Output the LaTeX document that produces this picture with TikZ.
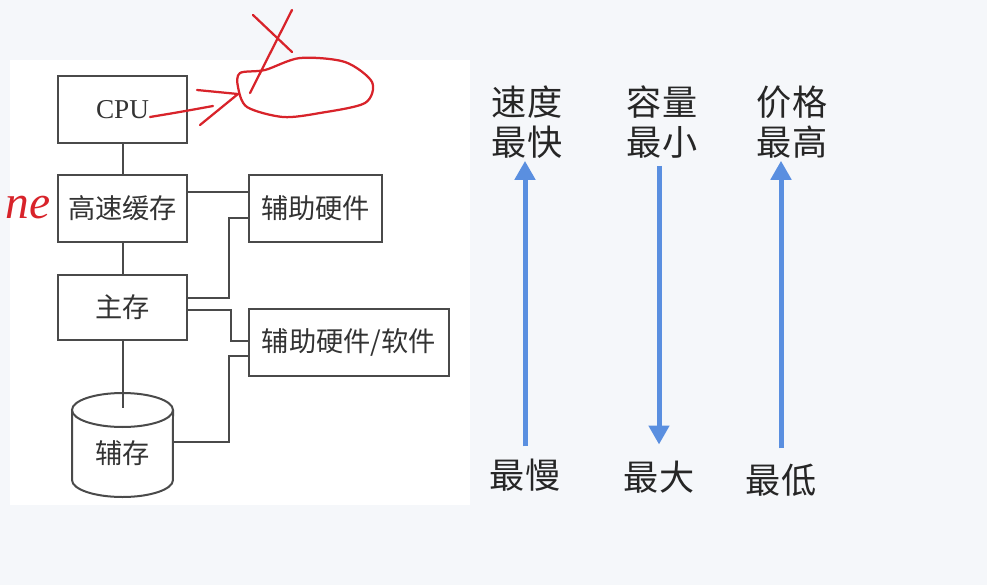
\documentclass[tikz,border=0pt]{standalone}
\usepackage{fontspec}
\usepackage{xcolor}
\usepackage{tikz}
\usetikzlibrary{arrows.meta}
\setmainfont{Liberation Serif}
\newfontfamily\cjk{Noto Sans CJK SC}
\definecolor{linegray}{HTML}{4A4A4A}
\definecolor{textgray}{HTML}{333333}
\definecolor{blueacc}{HTML}{5A8FE0}
\definecolor{redpen}{HTML}{D8232A}
\definecolor{bgmuted}{HTML}{F5F7FA}
\tikzset{
  box/.style={draw=linegray,line width=0.04cm,fill=white,minimum height=1.34cm,
    inner sep=0pt,font=\fontsize{15.5}{18}\selectfont\cjk,text=textgray},
  wire/.style={linegray,line width=0.04cm},
  flow/.style={blueacc,line width=0.1cm,-{Triangle[width=0.4cm,length=0.38cm]}},
  tag/.style={inner sep=0pt,align=center,font=\fontsize{20}{23}\selectfont\cjk,text=black!85},
  pen/.style={redpen,line width=0.045cm,line cap=round,line join=round}
}

\begin{document}
\begin{tikzpicture}[x=0.02cm,y=-0.02cm]
  \fill[bgmuted] (0,0) rectangle (987,585);
  \fill[white] (10,60) rectangle (470,505);
  \useasboundingbox (0,0) rectangle (987,585);

  \draw[wire,fill=white] (72,410) -- (72,480)
    arc[start angle=180,end angle=360,x radius=1.01cm,y radius=0.34cm] -- (173,410);
  \draw[wire,fill=white] (122.5,410) ellipse[x radius=1.01cm,y radius=0.34cm];

  \node[box,minimum width=2.58cm,font=\fontsize{15.5}{18}\selectfont\rmfamily] (cpu) at (122.5,109.5) {CPU};
  \node[box,minimum width=2.58cm] (cache) at (122.5,208.5) {高速缓存};
  \node[box,minimum width=2.58cm,minimum height=1.3cm] (main) at (122.5,307.5) {主存};
  \node[box,minimum width=2.66cm] (aux) at (315.5,208.5) {辅助硬件};
  \node[box,minimum width=4cm] (auxsw) at (349,342.5) {辅助硬件/软件};
  \node[box,draw=none,fill=none,minimum width=2.02cm,minimum height=1.6cm] (disk) at (122.5,453) {辅存};
  \coordinate (disktop) at (122.5,408);

  \draw[wire] (cpu) -- (cache);
  \draw[wire] (cache) -- (main);
  \draw[wire] (main) -- (disktop);
  \draw[wire] ([yshift=0.33cm]cache.east) -- ([yshift=0.33cm]aux.west);
  \draw[wire] ([yshift=-0.19cm]aux.west) -- ++(-0.38cm,0) |- ([yshift=0.19cm]main.east);
  \draw[wire] ([yshift=-0.05cm]main.east) -- ++(0.86cm,0) |- ([yshift=0.03cm]auxsw.west);
  \draw[wire] ([yshift=-0.27cm]auxsw.west) -- ++(-0.38cm,0) |- ([yshift=0.22cm]disk.east);

  \node[tag] (fast) at (527,122) {速度\\最快};
  \node[tag] (slow) at (525,475) {最慢};
  \node[tag] (small) at (662,122) {容量\\最小};
  \node[tag] (large) at (659,477) {最大};
  \node[tag] (high) at (792,122) {价格\\最高};
  \node[tag] (low) at (781,480) {最低};

  \draw[flow,shorten <=0.24cm,shorten >=0.04cm] (slow.north) -- (slow.north |- fast.south);
  \draw[flow,shorten <=0.14cm,shorten >=0.32cm] (large.north |- small.south) -- (large.north);
  \draw[flow,shorten <=0.3cm,shorten >=0.04cm] (low.north) -- (low.north |- high.south);

  \draw[pen] plot[smooth cycle] coordinates {(238,87) (240,73) (265,70) (300,58) (345,62)
    (372,82) (365,103) (320,113) (283,117) (247,107)};
  \draw[pen] (253,15) -- (292,52);
  \draw[pen] (292,10) -- (250,93);
  \draw[pen] (150,117) .. controls (180,112) .. (213,106);
  \draw[pen] (197,90) -- (238,94) -- (200,125);
  \node[text=redpen,inner sep=0pt,font=\fontsize{27}{27}\selectfont\itshape] (ne) at (28,208) {ne};
\end{tikzpicture}
\end{document}
